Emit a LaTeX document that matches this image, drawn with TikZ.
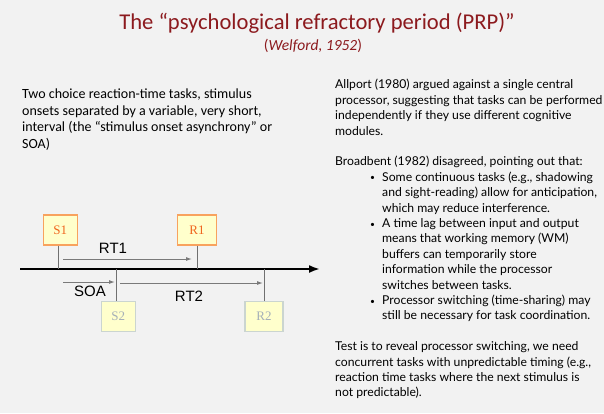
\documentclass[tikz,border=0pt]{standalone}
\usepackage{fontspec}
\setmainfont{Carlito}
\newfontfamily\gillf{Lato}
\newfontfamily\arialf{Liberation Sans}
\newfontfamily\tnrf{Liberation Serif}
\usetikzlibrary{arrows.meta}
\definecolor{bg}{HTML}{F2F2F2}
\definecolor{titlered}{HTML}{8C1A1E}
\definecolor{boxfill}{HTML}{FFFFCC}
\definecolor{orangeedge}{HTML}{F8A25E}
\definecolor{orangetext}{HTML}{F0651E}
\definecolor{grayedge}{HTML}{CBD5D0}
\definecolor{graytext}{HTML}{A5B0B8}
\definecolor{stem}{HTML}{707070}
\definecolor{arrowgray}{HTML}{7A7A7A}
\newcommand{\smbul}{\makebox[12pt][l]{\raisebox{0.5pt}{\scalebox{0.7}{•}}}}
\tikzset{
  evbox/.style={draw=orangeedge, line width=1.3pt, fill=boxfill, minimum width=34pt, minimum height=30pt, inner sep=0pt, text=orangetext, font=\tnrf\fontsize{13}{15}\selectfont},
  evboxg/.style={evbox, draw=grayedge, text=graytext},
  stemline/.style={draw=stem, line width=1pt},
  intarrow/.style={draw=arrowgray, line width=1pt, -{Latex[length=6pt,width=4pt]}},
  lab/.style={inner sep=0pt, font=\arialf\fontsize{15}{17}\selectfont},
  para/.style={inner sep=0pt, anchor=north west, align=left}
}
\begin{document}
\begin{tikzpicture}[x=1pt,y=-1pt]
\fill[bg] (0,0) rectangle (604,413);
\useasboundingbox (0,0) rectangle (604,413);
% title
\node[anchor=base, inner sep=0pt, text=titlered, font=\fontsize{22.6}{26}\selectfont] (title) at (317,29) {The “psychological refractory period (PRP)”};
\node[anchor=base, inner sep=0pt, text=titlered, font=\fontsize{15.5}{18}\selectfont] (sub) at (313,50.5) {(\textit{Welford, 1952})};
% left paragraph
\node[para, font=\fontsize{14}{16.7}\selectfont] (left) at (22,86.6) {\strut Two choice reaction-time tasks, stimulus\\onsets separated by a variable, very short,\\interval (the “stimulus onset asynchrony” or\\SOA)};
% right paragraph
\node[para, font=\gillf\fontsize{12.2}{15.4}\selectfont] (right) at (335,78) {\strut Allport (1980) argued against a single central\\
processor, suggesting that tasks can be performed\\
independently if they use different cognitive\\
modules.\\[15.4pt]
Broadbent (1982) disagreed, pointing out that:\\
\hspace*{35pt}\smbul Some continuous tasks (e.g., shadowing\\
\hspace*{47pt}and sight-reading) allow for anticipation,\\
\hspace*{47pt}which may reduce interference.\\
\hspace*{35pt}\smbul A time lag between input and output\\
\hspace*{47pt}means that working memory (WM)\\
\hspace*{47pt}buffers can temporarily store\\
\hspace*{47pt}information while the processor\\
\hspace*{47pt}switches between tasks.\\
\hspace*{35pt}\smbul Processor switching (time-sharing) may\\
\hspace*{47pt}still be necessary for task coordination.\\[15.4pt]
Test is to reveal processor switching, we need\\
concurrent tasks with unpredictable timing (e.g.,\\
reaction time tasks where the next stimulus is\\
not predictable).};
% timeline
\coordinate (axstart) at (20,269);
\coordinate (axend) at (320,269);
\draw[line width=2pt, -{Latex[length=11pt,width=8pt]}] (axstart) -- (axend);
% boxes
\node[evbox] (s1) at (60.3,230) {S1};
\node[evbox, minimum width=39pt] (r1) at (197,230) {R1};
\node[evboxg] (s2) at (118.3,316.5) {S2};
\node[evboxg, minimum width=38pt] (r2) at (264,316.5) {R2};
% stems
\draw[stemline] ([xshift=-2pt]s1.south) -- ([xshift=-2pt]s1.south |- axstart);
\draw[stemline] (r1.south) -- (r1.south |- axstart);
\draw[stemline] ([xshift=-2pt]s2.north) -- ([xshift=-2pt]s2.north |- axstart);
\draw[stemline] (r2.north) -- (r2.north |- axstart);
% interval arrows
\coordinate (rt1a) at (63,259);
\coordinate (rt1b) at (192,259);
\coordinate (soaa) at (63,282);
\coordinate (soab) at (115,282);
\coordinate (rt2a) at (120,283);
\coordinate (rt2b) at (263,283);
\draw[intarrow] (rt1a) -- (rt1b);
\draw[intarrow] (soaa) -- (soab);
\draw[intarrow] (rt2a) -- (rt2b);
\node[lab] (lrt1) at (113,248) {RT1};
\node[lab] (lsoa) at (90,291) {SOA};
\node[lab] (lrt2) at (189,296) {RT2};
\end{tikzpicture}
\end{document}
